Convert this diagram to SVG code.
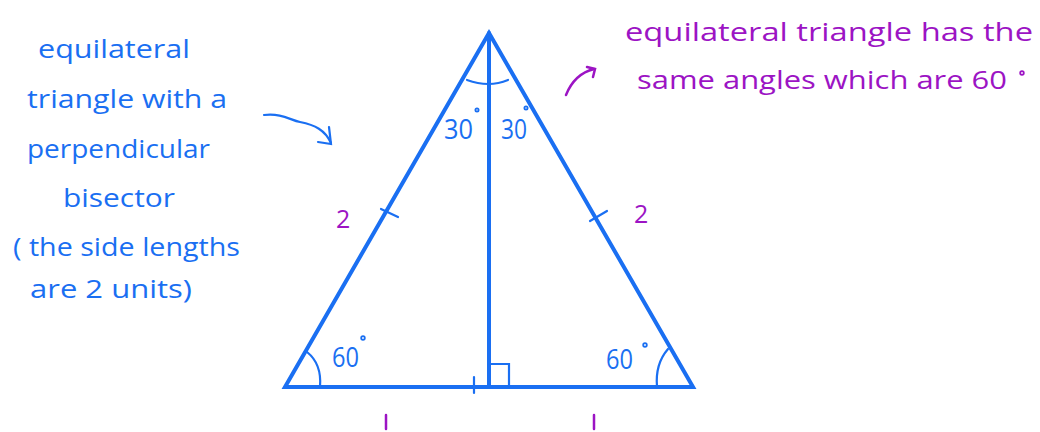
<svg xmlns="http://www.w3.org/2000/svg" width="1040" height="432" viewBox="0 0 1040 432">
<style>
.b{fill:none;stroke:#1a6ff2;stroke-width:4;stroke-linecap:round;stroke-linejoin:miter}
.bt{fill:none;stroke:#1a6ff2;stroke-width:2.2;stroke-linecap:round}
.pt{fill:none;stroke:#9c14c4;stroke-width:2.5;stroke-linecap:round}
.tb{font-family:"Open Sans","Liberation Sans",sans-serif;fill:#1a6ff2;font-size:25px;font-weight:400}
.tp{font-family:"Open Sans","Liberation Sans",sans-serif;fill:#9c14c4;font-size:25px;font-weight:400}
.ab{font-family:"Open Sans","Liberation Sans",sans-serif;fill:#1a6ff2;font-size:28px;font-weight:400}
.dg{fill:none;stroke-width:1.8}
</style>
<rect width="1040" height="432" fill="#ffffff"/>
<g id="triangle">
<path class="b" d="M489,33 L285,387 L693,387 Z"/>
<line class="b" x1="489" y1="33" x2="489" y2="387"/>
<path class="bt" d="M489,364 L509,364 L509,386"/>
<line class="bt" x1="474" y1="377" x2="474" y2="393"/>
<line class="bt" x1="381" y1="209" x2="398" y2="217"/>
<line class="bt" x1="590" y1="221" x2="607" y2="211"/>
<path class="bt" d="M467,80 Q489,88 508,80"/>
<path class="bt" d="M307,352 Q322,364 320,387"/>
<path class="bt" d="M668,349 Q655,364 657,387"/>
</g>
<g id="angle-labels">
<text class="ab" x="444" y="139" textLength="29" lengthAdjust="spacingAndGlyphs">30</text>
<circle class="dg" cx="477" cy="110" r="1.6" stroke="#1a6ff2"/>
<text class="ab" x="501" y="139" textLength="26" lengthAdjust="spacingAndGlyphs">30</text>
<circle class="dg" cx="526" cy="108" r="1.6" stroke="#1a6ff2"/>
<text class="ab" x="332" y="367" textLength="27" lengthAdjust="spacingAndGlyphs">60</text>
<circle class="dg" cx="363" cy="338" r="1.8" stroke="#1a6ff2"/>
<text class="ab" x="606" y="369" textLength="27" lengthAdjust="spacingAndGlyphs">60</text>
<circle class="dg" cx="645" cy="345" r="1.8" stroke="#1a6ff2"/>
</g>
<g id="length-labels">
<text class="tp" x="336" y="228" font-size="24">2</text>
<text class="tp" x="634" y="223" font-size="24">2</text>
<line class="pt" x1="386" y1="415" x2="386" y2="429"/>
<line class="pt" x1="594" y1="415" x2="594" y2="429"/>
</g>
<g id="left-note">
<text class="tb" x="38" y="58" textLength="152" lengthAdjust="spacingAndGlyphs">equilateral</text>
<text class="tb" x="27" y="108" textLength="200" lengthAdjust="spacingAndGlyphs">triangle with a</text>
<text class="tb" x="27" y="158" textLength="183" lengthAdjust="spacingAndGlyphs">perpendicular</text>
<text class="tb" x="63" y="207" textLength="112" lengthAdjust="spacingAndGlyphs">bisector</text>
<text class="tb" x="13" y="256" textLength="227" lengthAdjust="spacingAndGlyphs">( the side lengths</text>
<text class="tb" x="30" y="298" textLength="162" lengthAdjust="spacingAndGlyphs">are 2 units)</text>
</g>
<g id="right-note">
<text class="tp" x="625" y="41" textLength="408" lengthAdjust="spacingAndGlyphs">equilateral triangle has the</text>
<text class="tp" x="637" y="89" textLength="370" lengthAdjust="spacingAndGlyphs">same angles which are 60</text>
<circle class="dg" cx="1022" cy="73" r="1.8" stroke="#9c14c4"/>
</g>
<g id="connectors">
<path class="bt" d="M264,115 C282,113 290,120 300,122 C315,125 325,130 331,143"/>
<path class="bt" d="M318,142 L331,144 L329,127"/>
<path class="pt" d="M566,95 C572,80 582,72 594,69"/>
<path class="pt" d="M587,67 L595,69 L593,77"/>
</g>
</svg>
